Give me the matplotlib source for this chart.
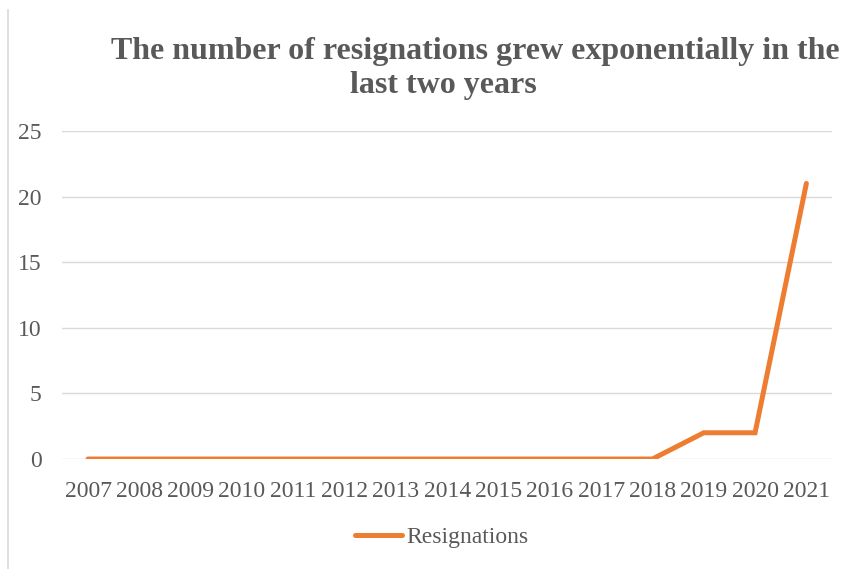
import matplotlib.pyplot as plt
from matplotlib.lines import Line2D

years = ['2007', '2008', '2009', '2010', '2011', '2012', '2013', '2014',
         '2015', '2016', '2017', '2018', '2019', '2020', '2021']
resignations = [0, 0, 0, 0, 0, 0, 0, 0, 0, 0, 0, 0, 2, 2, 21]

title_lines = ['The number of resignations grew exponentially in the', 'last two years']

serif = ['Liberation Serif', 'DejaVu Serif']
gray = '#595959'
orange = '#ED7D31'

fig = plt.figure(figsize=(8.51, 5.69), dpi=100)
ax = fig.add_axes([0.0733, 0.1933, 0.9044, 0.5765])

x = list(range(len(years)))
ax.plot(x, resignations, color=orange, linewidth=3.6, solid_capstyle='round',
        solid_joinstyle='miter')

ax.set_xlim(-0.5, len(years) - 0.5)
ax.set_ylim(0, 25)
ax.set_yticks([0, 5, 10, 15, 20, 25])
ax.set_xticks(x)
ax.set_xticklabels(years)
ax.grid(axis='y', color='#D9D9D9', linewidth=1)
ax.set_axisbelow(True)
for s in ax.spines.values():
    s.set_visible(False)
ax.tick_params(length=0, labelsize=17, labelcolor=gray)
ax.tick_params(axis='x', pad=16)
ax.tick_params(axis='y', pad=15)
for lab in ax.get_xticklabels() + ax.get_yticklabels():
    lab.set_family(serif)

# the two title lines are not centred on the same point in the original
fig.text(0.558, 1 - 51 / 569, title_lines[0], ha='center', va='center', fontsize=23,
         fontweight='bold', color=gray, family=serif)
fig.text(0.521, 1 - 86 / 569, title_lines[1], ha='center', va='center', fontsize=23,
         fontweight='bold', color=gray, family=serif)

handle = Line2D([], [], color=orange, linewidth=3.6, solid_capstyle='round')
fig.legend([handle], ['Resignations'], loc='center', bbox_to_anchor=(0.519, 0.055),
           frameon=False, prop={'family': serif, 'size': 17}, labelcolor=gray,
           handlelength=2.0, handletextpad=0.15)

# left border of the chart area
fig.add_artist(Line2D([0.0094, 0.0094], [0, 0.982], color='#D9D9D9', linewidth=1.2))

fig.savefig('out.png', dpi=100)
